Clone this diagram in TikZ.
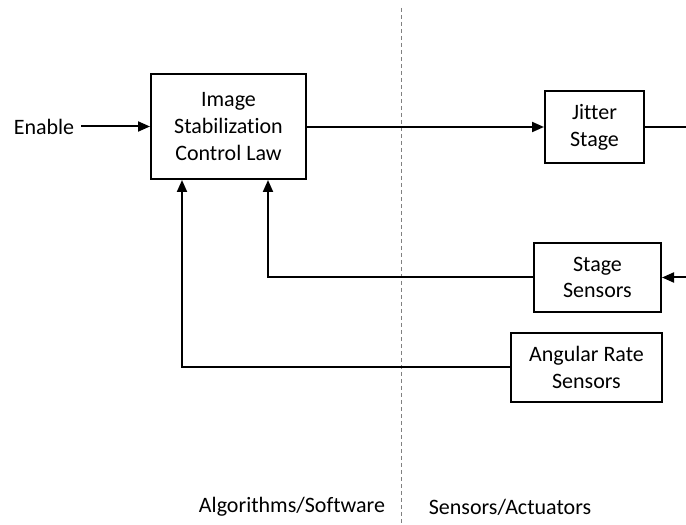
\documentclass[tikz,border=0pt]{standalone}
\usepackage{fontspec}
\setmainfont{Carlito}[Ligatures=NoCommon]
\usetikzlibrary{arrows.meta}

\tikzset{
  block/.style={draw,line width=1pt,align=center,inner sep=2pt},
  arr/.style={line width=1pt,-{Triangle[length=6pt,width=5pt]}},
  wire/.style={line width=1pt},
}

\begin{document}
\begin{tikzpicture}[x=0.5pt,y=0.5pt,font=\fontsize{11}{13.4}\selectfont]
\useasboundingbox (0,0) rectangle (686,525);

% boundary between software and hardware
\coordinate (divtop) at (401,517);
\coordinate (divbot) at (401,0);
\draw[gray,dashed,line width=0.5pt,dash pattern=on 2pt off 1.5pt] (divtop) -- (divbot);

% blocks
\node[block,minimum width=155*0.5pt,minimum height=105*0.5pt] (law) at (228.5,398.5) {Image\\Stabilization\\Control Law};
\node[block,minimum width=99*0.5pt,minimum height=72*0.5pt] (jitter) at (594.5,398) {Jitter\\Stage};
\node[block,minimum width=127*0.5pt,minimum height=69*0.5pt] (stage) at (597.5,247.5) {Stage\\Sensors};
\node[block,minimum width=151*0.5pt,minimum height=69*0.5pt] (rate) at (586.5,157.5) {Angular Rate\\Sensors};

% input and free ends
\node (enable) at (44,398.5) {Enable};
\coordinate (outR) at (686,398);
\coordinate (inR) at (686,247.5);

% connectors
\draw[arr] (enable) -- (law);
\draw[arr] (law.east |- jitter.west) -- (jitter.west);
\draw[wire] (jitter.east) -- (outR);
\draw[arr] (inR) -- (stage.east);
\draw[arr] (stage.west) -| ([xshift=19.75pt]law.south);
\draw[arr] (rate.west) -| ([xshift=-23.25pt]law.south);

% side labels
\node (soft) at (292,18) {Algorithms/Software};
\node (hard) at (510,18) {Sensors/Actuators};

\end{tikzpicture}
\end{document}
